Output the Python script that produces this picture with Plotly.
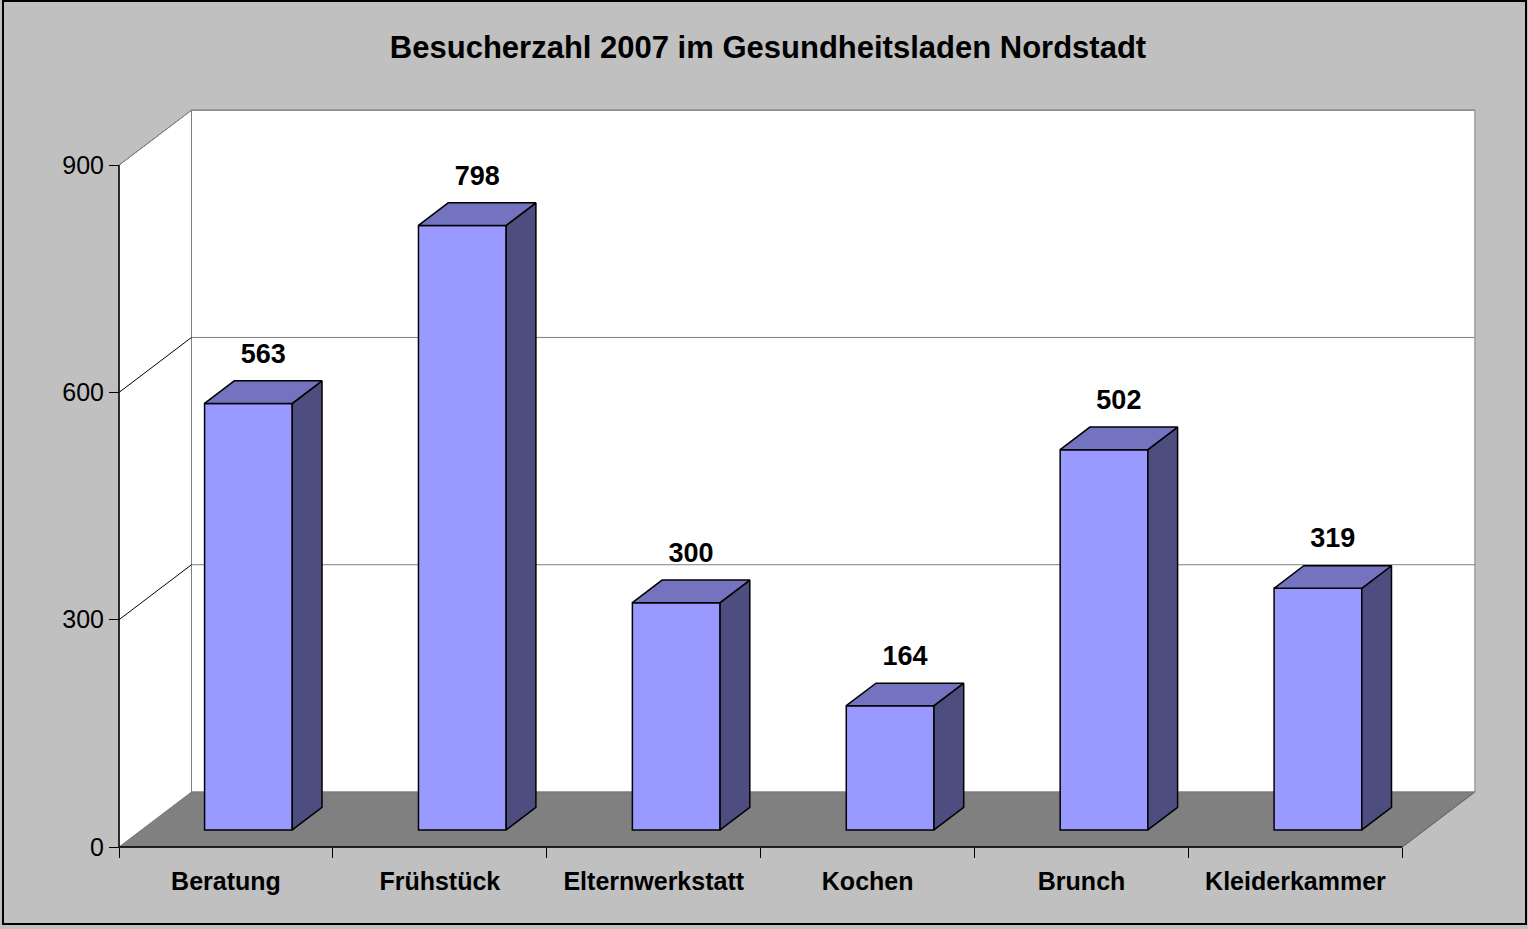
import plotly.graph_objects as go

# ---- data ----
categories = ["Beratung", "Frühstück", "Elternwerkstatt", "Kochen", "Brunch", "Kleiderkammer"]
visitors = [563, 798, 300, 164, 502, 319]
y_tick_values = [0, 300, 600, 900]
title_text = "Besucherzahl 2007 im Gesundheitsladen Nordstadt"

# ---- geometry (pseudo 3D) ----
W, H = 1528, 929
L, R, T, B = 100, 1490, 100, 860          # plot area in pixels
AX_X, AX_Y = 119, 847                     # pixel position of front axes origin
PX_CAT = 213.9                            # pixels per category
PX_VAL = 0.7576                           # pixels per value unit
DEPTH_X = 72.5 / PX_CAT                   # depth offset in category units
DEPTH_Y = 55.0 / PX_VAL                   # depth offset in value units
F1, F2 = 0.31, 0.72                       # bar depth extent (fractions)
BAR_W = 0.41
YMAX = 900
LABEL_OFF = 25 / PX_VAL

xr = [(L - AX_X) / PX_CAT, (R - AX_X) / PX_CAT]
yr = [(AX_Y - B) / PX_VAL, (AX_Y - T) / PX_VAL]
ncat = len(categories)

FONT = "Liberation Sans, Arial, sans-serif"
GRAY = "#808080"

fig = go.Figure()
shapes = []

def poly_shape(pts, fill, line_color, width=1):
    path = "M " + " L ".join(f"{x},{y}" for x, y in pts) + " Z"
    shapes.append(dict(type="path", path=path, xref="x", yref="y", layer="below",
                       fillcolor=fill, line=dict(color=line_color, width=width)))

def line_shape(x0, y0, x1, y1, color, width=1):
    shapes.append(dict(type="line", x0=x0, y0=y0, x1=x1, y1=y1, xref="x", yref="y",
                       layer="below", line=dict(color=color, width=width)))

# floor
poly_shape([(0, 0), (ncat, 0), (ncat + DEPTH_X, DEPTH_Y), (DEPTH_X, DEPTH_Y)], GRAY, "#5a5a5a")
# back wall
poly_shape([(DEPTH_X, DEPTH_Y), (ncat + DEPTH_X, DEPTH_Y), (ncat + DEPTH_X, YMAX + DEPTH_Y),
            (DEPTH_X, YMAX + DEPTH_Y)], "white", GRAY)
# left wall
poly_shape([(0, 0), (DEPTH_X, DEPTH_Y), (DEPTH_X, YMAX + DEPTH_Y), (0, YMAX)], "white", GRAY)
# gridlines
for v in y_tick_values[1:]:
    line_shape(DEPTH_X, v + DEPTH_Y, ncat + DEPTH_X, v + DEPTH_Y, GRAY, 1)
for v in y_tick_values[1:-1]:
    line_shape(0, v, DEPTH_X, v + DEPTH_Y, "black", 1)
line_shape(0, YMAX, DEPTH_X, YMAX + DEPTH_Y, GRAY, 1)
line_shape(DEPTH_X, DEPTH_Y, ncat + DEPTH_X, DEPTH_Y, GRAY, 1)
# axis lines
line_shape(0, 0, 0, YMAX, "black", 1.5)
line_shape(0, 0, ncat, 0, "black", 1.5)

# bars
centers = [i + 0.5 for i in range(ncat)]
fx = [c + F1 * DEPTH_X for c in centers]
base = F1 * DEPTH_Y
ddx = (F2 - F1) * DEPTH_X
ddy = (F2 - F1) * DEPTH_Y

side_x, side_y, top_x, top_y = [], [], [], []
for c, v in zip(fx, visitors):
    xl, xrt = c - BAR_W / 2, c + BAR_W / 2
    side_x += [xrt, xrt + ddx, xrt + ddx, xrt, xrt, None]
    side_y += [base, base + ddy, v + base + ddy, v + base, base, None]
    top_x += [xl, xrt, xrt + ddx, xl + ddx, xl, None]
    top_y += [v + base, v + base, v + base + ddy, v + base + ddy, v + base, None]

fig.add_trace(go.Bar(x=fx, y=visitors, base=[base] * ncat, width=BAR_W,
                     marker=dict(color="#9999FF", line=dict(color="black", width=1.5)),
                     hoverinfo="skip", showlegend=False))
fig.add_trace(go.Scatter(x=side_x, y=side_y, mode="lines", fill="toself", fillcolor="#4D4D80",
                         line=dict(color="black", width=1.5), hoverinfo="skip", showlegend=False))
fig.add_trace(go.Scatter(x=top_x, y=top_y, mode="lines", fill="toself", fillcolor="#7373BF",
                         line=dict(color="black", width=1.5), hoverinfo="skip", showlegend=False))

# data labels
lab_x = [c + ddx / 2 for c in fx]
lab_y = [v + F2 * DEPTH_Y + LABEL_OFF for v in visitors]
fig.add_trace(go.Scatter(x=lab_x, y=lab_y, mode="text", text=[str(v) for v in visitors],
                         textposition="middle center",
                         textfont=dict(family=FONT, size=27, color="black", weight="bold"),
                         hoverinfo="skip", showlegend=False, cliponaxis=False))

# outer border
shapes.append(dict(type="rect", xref="paper", yref="paper",
                   x0=(3 - L) / (R - L), x1=(1526 - L) / (R - L),
                   y0=(B - 924) / (B - T), y1=(B - 1) / (B - T),
                   line=dict(color="black", width=2), fillcolor="rgba(0,0,0,0)", layer="above"))

fig.update_layout(
    width=W, height=H,
    margin=dict(l=L, r=W - R, t=T, b=H - B, pad=0),
    paper_bgcolor="#C0C0C0", plot_bgcolor="#C0C0C0",
    barmode="overlay", showlegend=False,
    title=dict(text=title_text, x=768 / W, xref="container", xanchor="center",
               y=1 - 47 / H, yref="container", yanchor="middle",
               font=dict(family=FONT, size=31, color="black", weight="bold")),
    xaxis=dict(range=xr, domain=[0, 1], anchor="free", position=(B - AX_Y) / (B - T),
               showgrid=False, zeroline=False, showline=False,
               tickvals=centers, ticktext=categories, ticks="",
               tickfont=dict(family=FONT, size=25, color="black", weight="bold"),
               ticklabelstandoff=17,
               minor=dict(tickvals=list(range(ncat + 1)), ticks="outside", ticklen=10,
                          tickcolor="black", tickwidth=1, showgrid=False)),
    yaxis=dict(range=yr, domain=[0, 1], anchor="free", position=(AX_X - L) / (R - L),
               showgrid=False, zeroline=False, showline=False,
               tickvals=y_tick_values, ticks="outside", ticklen=10, tickcolor="black",
               tickwidth=1, tickfont=dict(family=FONT, size=25, color="black")),
    shapes=shapes,
)

fig.write_html("out.html", config={"displayModeBar": False},
               post_script="document.body.style.margin='0px';document.body.style.overflow='hidden';")
